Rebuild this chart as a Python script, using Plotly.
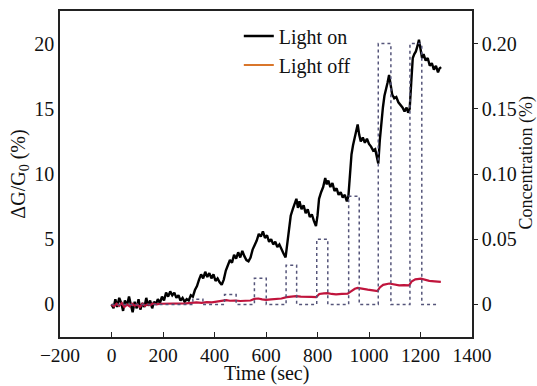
import plotly.graph_objects as go

# Light on response (ΔG/G0 %)
on_time = [0, 8, 15, 22, 30, 38, 45, 52, 60, 68, 75, 82, 90, 98, 105, 112, 120, 128, 135, 142,
           150, 158, 165, 172, 180, 188, 196, 204, 212, 220, 228, 236, 244, 252, 260, 268, 276, 284,
           292, 300, 308, 316, 324, 332, 340, 348, 356, 364, 372, 380, 388, 396, 404, 412, 420, 428,
           436, 444, 452, 460, 468, 476, 484, 492, 500, 508, 516, 524, 532, 540, 548, 556, 564, 572,
           580, 588, 596, 604, 612, 620, 628, 636, 644, 652, 660, 668, 676, 682, 688, 696, 704, 712,
           718, 724, 730, 738, 746, 754, 762, 770, 778, 786, 794, 800, 806, 814, 822, 830, 836, 842,
           850, 858, 866, 874, 882, 890, 898, 906, 914, 920, 926, 932, 938, 944, 950, 956, 962, 968,
           976, 984, 992, 1000, 1008, 1016, 1024, 1030, 1036, 1042, 1048, 1054, 1060, 1066, 1072,
           1078, 1084, 1090, 1098, 1106, 1114, 1122, 1130, 1138, 1146, 1152, 1158, 1164, 1170, 1176,
           1182, 1188, 1194, 1200, 1206, 1212, 1220, 1228, 1236, 1244, 1252, 1260, 1268, 1274, 1280]
on_value = [0.0, -0.3, 0.4, -0.2, 0.5, 0.1, -0.5, 0.3, -0.1, 0.6, 0.0, -0.6, 0.2, -0.3, 0.4, -0.4,
            0.1, -0.2, 0.5, -0.1, 0.3, -0.3, 0.2, 0.0, 0.4, 0.1, 0.6, 0.3, 0.9, 0.6, 1.0, 0.7, 0.9,
            0.5, 0.7, 0.3, 0.5, 0.2, 0.4, 0.3, 0.7, 0.6, 1.1, 1.4, 1.9, 2.3, 2.0, 2.5, 2.1, 2.4, 2.0,
            2.3, 1.8, 2.0, 1.7, 1.5, 1.9, 2.6, 3.0, 3.4, 3.2, 3.8, 3.5, 4.0, 3.6, 4.1, 3.7, 3.4, 3.3,
            3.6, 4.2, 4.5, 4.9, 5.4, 5.2, 5.6, 5.1, 5.3, 4.8, 5.0, 4.6, 4.8, 4.4, 4.6, 4.2, 3.9, 3.6,
            4.5, 5.8, 6.8, 7.3, 7.8, 8.1, 7.4, 7.9, 7.3, 7.6, 7.0, 7.3, 6.7, 6.9, 6.4, 6.0, 6.8, 8.1,
            8.6, 9.0, 9.7, 9.2, 9.5, 9.0, 9.3, 8.7, 8.9, 8.4, 8.6, 8.2, 8.4, 7.9, 8.3, 10.4, 11.5,
            12.2, 12.8, 13.3, 13.8, 13.0, 12.5, 12.8, 12.4, 12.7, 12.3, 12.1, 11.8, 11.9, 11.3, 10.8,
            12.6, 14.0, 15.1, 16.0, 16.4, 17.0, 17.6, 16.8, 16.1, 15.8, 15.9, 15.5, 15.3, 15.1, 14.8,
            15.1, 14.7, 15.0, 17.0, 18.9, 19.2, 19.4, 19.8, 20.3, 19.6, 18.9, 19.2, 18.7, 18.9, 18.3,
            18.5, 18.0, 18.3, 17.8, 18.1, 18.2]

# Light off response (ΔG/G0 %)
off_time = [0, 10, 20, 30, 40, 50, 60, 70, 80, 90, 100, 110, 120, 130, 140, 150, 160, 175, 190,
            210, 230, 250, 270, 290, 310, 330, 350, 370, 390, 410, 430, 445, 460, 480, 500, 520,
            540, 555, 570, 585, 600, 620, 640, 660, 680, 700, 717, 735, 756, 775, 795, 807, 825,
            840, 855, 872, 895, 917, 930, 945, 956, 975, 995, 1015, 1033, 1042, 1055, 1079, 1095,
            1117, 1135, 1156, 1165, 1180, 1202, 1220, 1234, 1255, 1279]
off_value = [0.0, -0.15, 0.05, -0.1, 0.1, -0.2, 0.0, -0.15, 0.05, -0.1, 0.0, -0.2, 0.05, -0.1,
             0.0, -0.05, 0.05, 0.0, 0.05, 0.05, 0.08, 0.05, 0.1, 0.08, 0.12, 0.15, 0.12, 0.18,
             0.15, 0.2, 0.25, 0.32, 0.28, 0.3, 0.26, 0.28, 0.3, 0.42, 0.45, 0.38, 0.35, 0.38, 0.42,
             0.45, 0.56, 0.6, 0.64, 0.6, 0.56, 0.58, 0.56, 0.8, 0.85, 0.87, 0.8, 0.77, 0.8, 0.82,
             1.0, 1.2, 1.26, 1.18, 1.13, 1.08, 1.02, 1.3, 1.5, 1.6, 1.52, 1.46, 1.48, 1.46, 1.75,
             1.92, 1.98, 1.88, 1.8, 1.76, 1.72]

# Gas concentration profile (%), step changes
conc_time = [0, 316, 355, 439, 484, 555, 601, 678, 719, 797, 840, 921, 962, 1036, 1085, 1159, 1205, 1265]
conc_value = [0, 0.004, 0, 0.0075, 0, 0.02, 0, 0.03, 0, 0.05, 0, 0.083, 0, 0.2, 0, 0.2, 0, 0]

x_ticks = [-200, 0, 200, 400, 600, 800, 1000, 1200, 1400]
y_ticks = [0, 5, 10, 15, 20]
y2_ticks = [0, 0.05, 0.10, 0.15, 0.20]
y2_labels = ["0", "0.05", "0.10", "0.15", "0.20"]

FONT = "Liberation Serif"
AX = "#222222"

fig = go.Figure()
fig.add_trace(go.Scatter(x=conc_time, y=conc_value, yaxis="y2", mode="lines",
                         line=dict(color="#55557a", width=1.5, dash="dot", shape="hv"),
                         showlegend=False, hoverinfo="skip"))
fig.add_trace(go.Scatter(x=on_time, y=on_value, mode="lines", name="Light on",
                         line=dict(color="#000000", width=2.4)))
fig.add_trace(go.Scatter(x=off_time, y=off_value, mode="lines", name="Light off",
                         line=dict(color="#c0143c", width=2.2), showlegend=False))
# legend entry for Light off (legend sample drawn in orange as in the original)
fig.add_trace(go.Scatter(x=[None], y=[None], mode="lines", name="Light off",
                         line=dict(color="#d9762b", width=2)))

fig.update_layout(
    width=537, height=386,
    margin=dict(l=60, r=65, t=11, b=49),
    paper_bgcolor="white", plot_bgcolor="white",
    font=dict(family=FONT, size=20, color="#111111"),
    showlegend=True,
    legend=dict(x=0.434, y=0.983, xanchor="left", yanchor="top",
                bgcolor="rgba(0,0,0,0)", font=dict(size=20, family=FONT),
                itemwidth=30, tracegroupgap=0),
    xaxis=dict(range=[-200, 1400], tickvals=x_ticks, ticks="inside", ticklen=5,
               tickcolor=AX, showline=True, linecolor=AX, linewidth=1.5, mirror=True,
               showgrid=False, zeroline=False, automargin=False, tickfont=dict(size=19.5)),
    yaxis=dict(range=[-2.5, 22.5], tickvals=y_ticks, ticks="", showline=True,
               linecolor=AX, linewidth=1.5, showgrid=False, zeroline=False, automargin=False,
               title=dict(text="ΔG/G<sub>0</sub> (%)", standoff=3, font=dict(size=20))),
    yaxis2=dict(range=[-0.025, 0.225], overlaying="y", side="right", tickvals=y2_ticks,
                ticktext=y2_labels, ticks="outside", ticklen=4, tickcolor=AX,
                showline=True, linecolor=AX, linewidth=1.5, showgrid=False, zeroline=False,
                automargin=False),
    annotations=[
        dict(text="Concentration (%)", textangle=-90, xref="paper", yref="paper",
             x=1.133, y=0.535, xanchor="center", yanchor="middle", showarrow=False,
             font=dict(size=18, family=FONT, color="#111111")),
        dict(text="Time (sec)", xref="paper", yref="paper", x=0.5, y=-0.152,
             xanchor="center", yanchor="bottom", showarrow=False,
             font=dict(size=20, family=FONT, color="#111111")),
    ],
)

fig.write_html("out.html")
